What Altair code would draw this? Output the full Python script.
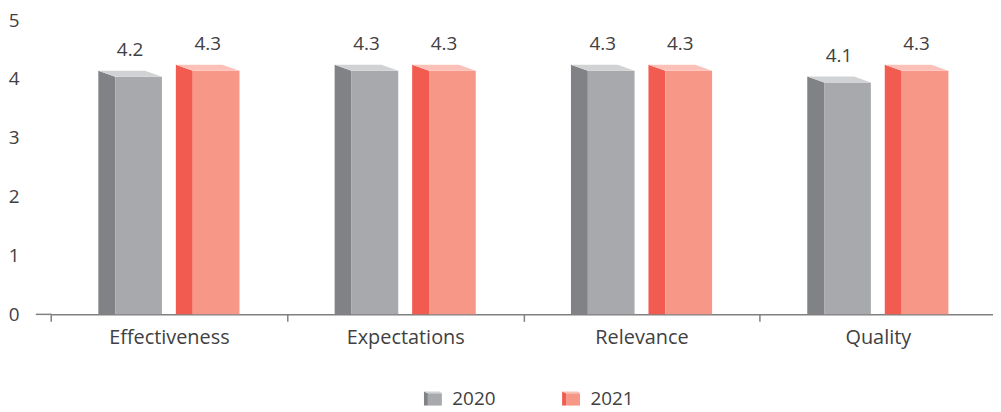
import altair as alt
import pandas as pd

categories = ["Effectiveness", "Expectations", "Relevance", "Quality"]
years = ["2020", "2021"]
values_2020 = [4.2, 4.3, 4.3, 4.1]
values_2021 = [4.3, 4.3, 4.3, 4.3]
labels_2020 = ["4.2", "4.3", "4.3", "4.1"]
labels_2021 = ["4.3", "4.3", "4.3", "4.3"]

side_colors = ["#808285", "#f15b50"]
front_colors = ["#a7a9ac", "#f79787"]
top_colors = ["#d0d2d3", "#fbc1b8"]

rows = []
for i, c in enumerate(categories):
    rows.append({"category": c, "year": years[0], "value": values_2020[i], "label": labels_2020[i]})
    rows.append({"category": c, "year": years[1], "value": values_2021[i], "label": labels_2021[i]})
df = pd.DataFrame(rows)

W = 957
H = 296
FONT = "Open Sans"
TXT = "#414042"

# 3D box faces as symbol paths (unit = 32 px, origin = front-top centre)
TOP_PATH = "M-1,-0.1875L0.469,-0.1875L1,0L-0.469,0Z"
SIDE_PATH = "M-1,-0.1875L-0.469,0L-0.469,12.5L-1,12.5Z"
FRONT_PATH = "M-0.469,0L1,0L1,12.5L-0.469,12.5Z"
# legend icon faces (18 px square unit)
LEG_SIDE = "M-1,-0.78L-0.56,-0.6L-0.56,0.78L-1,0.78Z"
LEG_FRONT = "M-0.56,-0.6L1,-0.6L1,0.78L-0.56,0.78Z"
LEG_TOP = "M-1,-0.78L0.8,-0.78L1,-0.6L-0.56,-0.6Z"

x_enc = alt.X("category:N", sort=categories,
              scale=alt.Scale(range=[15, 966], paddingInner=0, paddingOuter=0),
              axis=alt.Axis(title=None, tickBand="extent", labelAngle=0,
                            labelFont=FONT, labelFontSize=20, labelColor=TXT,
                            labelPadding=6, tickSize=7, tickColor="#808080",
                            tickWidth=1.5, domainColor="#808080", domainWidth=1.5,
                            grid=False))
xo_enc = alt.XOffset("year:N", sort=years,
                     scale=alt.Scale(type="band", paddingInner=0.1795, paddingOuter=0.614))
y_enc = alt.Y("value:Q", scale=alt.Scale(domain=[0, 5], nice=False),
              axis=alt.Axis(title=None, values=[0, 1, 2, 3, 4, 5], format="d",
                            ticks=False, domain=False, grid=False,
                            labelFont=FONT, labelFontSize=19, labelColor=TXT,
                            labelPadding=17))

LX, LY = 390, 371


def legend(path, show_labels):
    return alt.Legend(title=None, orient="none", legendX=LX, legendY=LY,
                      direction="horizontal", padding=0,
                      symbolType=path, symbolSize=324, symbolStrokeWidth=0,
                      symbolOpacity=1,
                      labelFont=FONT, labelFontSize=19, labelColor=TXT,
                      labelOpacity=1 if show_labels else 0,
                      columnPadding=66, labelOffset=10)


base = alt.Chart(df)


def face(path, colors, leg_path, show_labels):
    enc = alt.Color("year:N", sort=years,
                    scale=alt.Scale(domain=years, range=colors),
                    legend=legend(leg_path, show_labels))
    return base.mark_point(shape=path, size=4096, filled=True, opacity=1,
                           strokeWidth=0, yOffset=9.5, clip=True).encode(
        x=x_enc, xOffset=xo_enc, y=y_enc, color=enc)


side = face(SIDE_PATH, side_colors, LEG_SIDE, False)
front = face(FRONT_PATH, front_colors, LEG_FRONT, True)
top = face(TOP_PATH, top_colors, LEG_TOP, False)

text = base.mark_text(baseline="bottom", dy=-7, font=FONT, fontSize=19,
                      color=TXT).encode(
    x=x_enc, xOffset=xo_enc, y=y_enc, text="label:N"
)

ext = alt.Chart(pd.DataFrame({"a": [0]})).mark_rule(color="#808080", strokeWidth=1.5).encode(
    x=alt.value(0), x2=alt.value(16), y=alt.value(H)
)

chart = alt.layer(side, front, top, text, ext).resolve_scale(
    color="independent"
).properties(
    width=W, height=H,
    autosize=alt.AutoSizeParams(type="none"),
    padding={"left": 28, "top": 11, "right": 6, "bottom": 97},
).configure_view(stroke=None)

chart.save("out.html", embed_options={"renderer": "svg", "actions": False})
